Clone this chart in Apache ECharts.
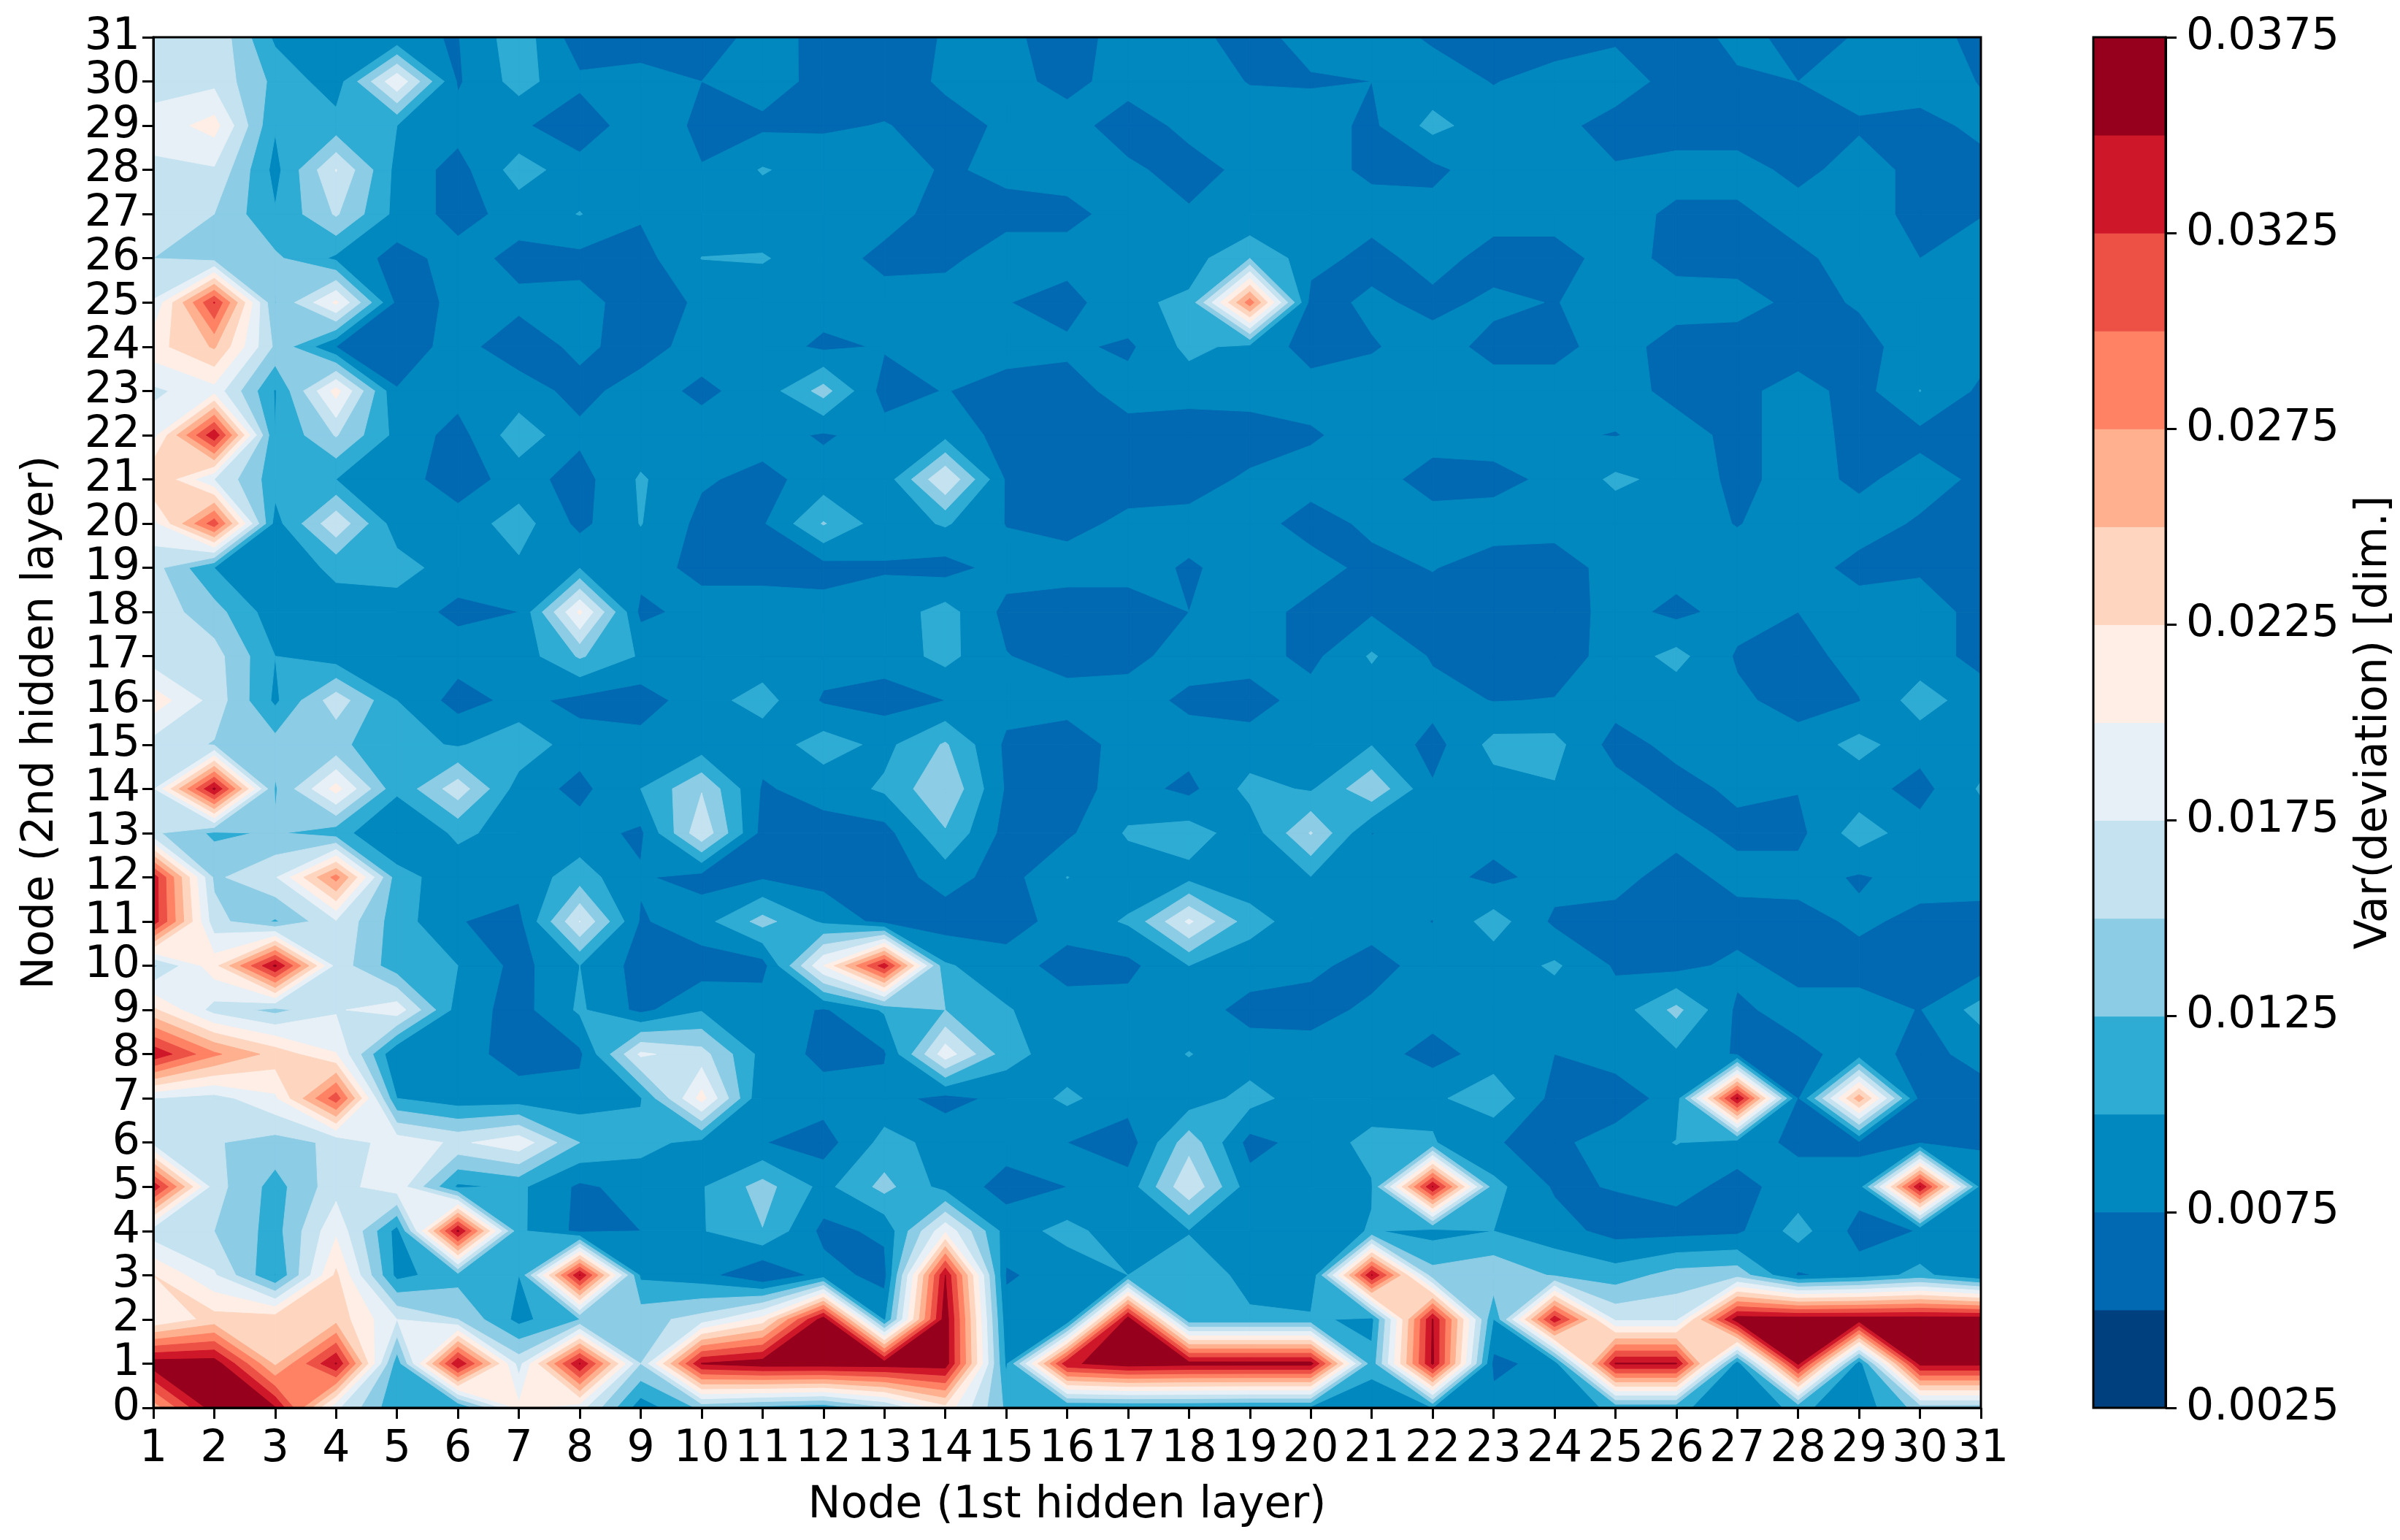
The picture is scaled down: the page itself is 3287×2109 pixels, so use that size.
<!DOCTYPE html>
<html>
<head>
<meta charset="utf-8">
<title>Var(deviation)</title>
<script src="https://cdn.jsdelivr.net/npm/echarts@6/dist/echarts.min.js"></script>
<style>
html, body { margin: 0; padding: 0; background: #fff; }
#ech { width: 3287px; height: 2109px; }
</style>
</head>
<body>
<div id="ech"></div>
<script>
var nodesFirst = [1,2,3,4,5,6,7,8,9,10,11,12,13,14,15,16,17,18,19,20,21,22,23,24,25,26,27,28,29,30,31];
var nodesSecond = [0,1,2,3,4,5,6,7,8,9,10,11,12,13,14,15,16,17,18,19,20,21,22,23,24,25,26,27,28,29,30,31];

// unit 1e-4, one row per 2nd layer node
var row0 = [260,365,352,180,105,98,205,185,85,130,115,105,145,215,120,95,95,95,92,92,85,100,85,85,105,105,85,105,85,135,135];
var row1 = [365,365,245,352,110,350,165,352,150,352,365,365,365,365,95,345,365,360,360,360,108,355,68,85,352,352,85,355,85,358,358];
var row2 = [200,235,240,240,175,150,92,125,140,160,210,365,95,365,85,74.9,365,105,105,105,92,352,99,342,170,170,365,365,365,365,365];
var row3 = [225,178,99,230,92,115,100,352,95,85,49,85,66,350,72,85,100,120,90,74.9,352,135,145,122,112,135,140,72,85,108,74];
var row4 = [160,150,115,195,90,355,105,68,75,98,124,68,80,195,88,108,85,98,85,85,102,90,100,85,66,66,70,110,66,76,85];
var row5 = [345,160,115,165,190,95,105,70,85,98,135,92,133,90,66,75,85,172,85,85,98,352,108,72,76,82,68,85,85,352,88];
var row6 = [165,152,140,155,190,170,192,125,108,92,76,64,108,92,85,75,62,140,66,85,108,102,76,70,85,101,85,70,70,72,72];
var row7 = [175,165,195,315,100,85,85,85,98,210,75,85,85,66,82,105,85,85,110,85,85,94,118,66,62,85,355,72,265,66,66];
var row8 = [345,280,240,201,74.9,85,65,70,180,160,91,68,72,190,110,85,85,101,85,85,85,66,85,75,85,95,72,68,85,68,82];
var row9 = [230,165,142,172,190,88,65,104,68,98,92,72,103,125,102,85,85,85,68,66,80,85,85,85,85,132,70,85,85,74,110];
var row10 = [145,215,355,165,110,100,66,100,65,62,64,200,340,103,85,66,68,100,85,80,66,85,85,104,72,66,82,65,65,65,65];
var row11 = [340,160,122,172,112,76,68,176,72,90,134,95,66,62,64,85,103,180,110,85,85,74.5,112,70,65,62,62,65,80,68,66];
var row12 = [340,145,172,285,110,85,85,112,78,65,72,65,62,85,64,100.5,85,92,85,99,85,85,68,85,85,62,85,85,72,85,85];
var row13 = [155,120,128,110,74.5,105,90,85,70,170,66,64,65,122,66,70,103,112,85,152,74.5,85,85,74.9,85,85,68,68,113,85,85];
var row14 = [172,355,122,210,105,165,88,68,100,148,72,85,104,148,72,65,85,68,108,97,145,78,90,98,85,66,80,76,85,66,103];
var row15 = [165,148,135,130,110,97,118,85,85,85,85,112,93,128,70,62,85,85,85,75,99,65,108,108,65,82,85,85,108,85,85];
var row16 = [215,165,95,165,100,65,82,68,62,90,110,72,65,75,85,85,85,70,65,85,85,85,74,76,85,85,80,65,74,112,85];
var row17 = [160,160,100,85,85,85,85,128,97,85,85,85,85,108,76,65,68,85,85,68,103,72,62,62,85,108,72,65,85,85,68];
var row18 = [165,135,85,90,85,70,75,205,68,85,85,85,85,110,68,62,62,75,85,68,72,65,60,60,85,68,85,75,85,85,68];
var row19 = [160,100,85,105,112,85,95,99,85,68,68,65,73,65,85,85,85,72,85,85,68,76,65,62,85,85,85,85,68,72,65];
var row20 = [190,315,90,170,85,85,112,68,101,68,72,127,85,103,74,68,80,85,85,65,80,85,85,85,85,85,74,85,85,72,65];
var row21 = [252,175,110,100,85,63,85,65,103,78,68,85,85,175,72,65,65,62,80,85,85,65,68,80,105,92,68,85,70,85,70];
var row22 = [190,345,100,152,92,65,115,80,85,85,85,72,85,92,65,62,65,60,60,72,85,85,85,78,74,85,68,85,68,68,68];
var row23 = [170,190,98,210,76,85,85,68,85,70,85,135,65,76,65,65,85,85,88,85,85,85,85,85,85,68,68,85,65,100.5,70];
var row24 = [215,253,145,75,65,82,63,80,65,85,87,70,77,85,85,80,70,107,92,65,73,85,68,68,85,65,62,62,68,85,85];
var row25 = [177,327,124,205,68,78,80,82,65,78,85,85,85,85,76,65,95,105,290,65,80,68,80,74,85,85,85,68,77,85,85];
var row26 = [150,140,130,95,65,85,68,68,65,100.5,102,87,68,70,85,85,85,88,125,85,66,85,65,65,85,68,66,70,85,75,85];
var row27 = [165,150,102,153,92,65,85,101,78,85,85,85,85,65,68,68,85,78,76,85,85,85,85,85,85,70,70,85,85,68,74];
var row28 = [170,172,92,176,92,65,112,85,85,76,102,88,88,72,80,85,80,65,82,85,70,68,91,85,78,85,85,68,85,68,68];
var row29 = [185,210,102,110,100,85,79,60,90,70,70,72,76,68,78,85,62,82,85,85,70,108,85,85,62,62,62,62,72,68,80];
var row30 = [165,168,118,86,197,72,110,80,82,75,85,68,65,78,82,68,85,85,74,73,75,85,74,83,92,62,72,75,85,85,74];
var row31 = [170,171,95,85,78,74,115,60,65,65,82,70,68,76,82,60,89,80,68,82,85,72,65,65,70,65,80,70,76,85,68];
var rows = [row0,row1,row2,row3,row4,row5,row6,row7,row8,row9,row10,row11,row12,row13,row14,row15,
	row16,row17,row18,row19,row20,row21,row22,row23,row24,row25,row26,row27,row28,row29,row30,row31];

// contour levels, same unit
var levels = [25,50,75,100,125,150,175,200,225,250,275,300,325,350,375];
var bandColors = ['#00407f','#0069b2','#0088bf','#2eacd4','#8ccce5','#c4e2f0','#e7f0f6',
	'#ffeee6','#fed6c0','#ffb08f','#ff8265','#ed5146','#cf172a','#96001c'];
var barTickLabels = ['0.0025','0.0075','0.0125','0.0175','0.0225','0.0275','0.0325','0.0375'];

var fontName = 'DejaVu Sans';
var fontPx = 60;

// one item per grid cell: x, y and the four corner values
function cellData() {
	var out = [];
	for (var j = 0; j < nodesSecond.length - 1; j++) {
		for (var i = 0; i < nodesFirst.length - 1; i++) {
			out.push([nodesFirst[i], nodesSecond[j], rows[j][i], rows[j][i + 1], rows[j + 1][i + 1], rows[j + 1][i]]);
		}
	}
	return out;
}

function clipAbove(poly, lv) {
	var out = [];
	for (var i = 0; i < poly.length; i++) {
		var p = poly[i], q = poly[(i + 1) % poly.length];
		if (p[2] >= lv) out.push(p);
		if ((p[2] >= lv) !== (q[2] >= lv)) {
			var t = (lv - p[2]) / (q[2] - p[2]);
			out.push([p[0] + t * (q[0] - p[0]), p[1] + t * (q[1] - p[1]), lv]);
		}
	}
	return out;
}

function renderCell(params, api) {
	var x = api.value(0), y = api.value(1);
	var a = api.value(2), b = api.value(3), c = api.value(4), d = api.value(5);
	var quad = [[x, y, a], [x + 1, y, b], [x + 1, y + 1, c], [x, y + 1, d]];
	var centre = (a + b + c + d) / 4;
	var children = [];

	function addPoly(poly, k) {
		if (poly.length < 3) return;
		var pts = [];
		for (var n = 0; n < poly.length; n++) {
			pts.push(api.coord([poly[n][0], poly[n][1]]));
		}
		// z2 keeps higher bands on top of every cell's lower bands
		children.push({
			type: 'polygon',
			z2: k,
			shape: { points: pts },
			style: { fill: bandColors[k], stroke: bandColors[k], lineWidth: 1 }
		});
	}

	var low = Math.min(a, b, c, d);
	var high = Math.max(a, b, c, d);
	for (var k = 0; k < bandColors.length; k++) {
		var lv = levels[k];
		if (high < lv) break;
		if (low >= levels[k + 1]) continue;
		var saddle = (a - lv) * (c - lv) > 0 && (b - lv) * (d - lv) > 0 && (a - lv) * (b - lv) < 0;
		if (saddle && centre < lv) {
			// the two high corners stay apart: cut along the low diagonal
			if (a >= lv) {
				addPoly(clipAbove([quad[0], quad[1], quad[3]], lv), k);
				addPoly(clipAbove([quad[2], quad[3], quad[1]], lv), k);
			} else {
				addPoly(clipAbove([quad[1], quad[2], quad[0]], lv), k);
				addPoly(clipAbove([quad[3], quad[0], quad[2]], lv), k);
			}
		} else {
			addPoly(clipAbove(quad, lv), k);
		}
	}
	return { type: 'group', children: children };
}

function renderBand(params, api) {
	var i = api.value(0);
	var p0 = api.coord([0, i]);
	var p1 = api.coord([1, i + 1]);
	return {
		type: 'rect',
		shape: { x: p0[0], y: p1[1], width: p1[0] - p0[0], height: p0[1] - p1[1] },
		style: { fill: bandColors[i], stroke: bandColors[i], lineWidth: 1 }
	};
}

function bandData() {
	var out = [];
	for (var i = 0; i < bandColors.length; i++) out.push([i]);
	return out;
}

var nameStyle = { color: '#000', fontFamily: fontName, fontSize: fontPx };
var lineStyle = { color: '#000', width: 3 };

var myChart = echarts.init(document.getElementById('ech'), null, { renderer: 'canvas' });
var option = {
	animation: false,
	backgroundColor: '#fff',
	textStyle: { fontFamily: fontName },
	grid: [
		{ left: 210, top: 51, width: 2503, height: 1877, show: true, z: 10,
			backgroundColor: 'transparent', borderColor: '#000', borderWidth: 3 },
		{ left: 2867, top: 51, width: 99, height: 1877, show: true, z: 10,
			backgroundColor: 'transparent', borderColor: '#000', borderWidth: 3 }
	],
	xAxis: [
		{ type: 'value', gridIndex: 0, min: 1, max: 31, interval: 1, z: 10,
			name: 'Node (1st hidden layer)', nameLocation: 'middle', nameGap: 104, nameTextStyle: nameStyle,
			axisLine: { show: true, onZero: false, lineStyle: lineStyle },
			axisTick: { show: true, length: 15, lineStyle: lineStyle },
			axisLabel: { show: true, margin: 27, showMinLabel: true, showMaxLabel: true, hideOverlap: false, color: '#000', fontFamily: fontName, fontSize: fontPx },
			splitLine: { show: false } },
		{ type: 'value', gridIndex: 1, min: 0, max: 1, show: false, splitLine: { show: false } }
	],
	yAxis: [
		{ type: 'value', gridIndex: 0, min: 0, max: 31, interval: 1, z: 10,
			name: 'Node (2nd hidden layer)', nameLocation: 'middle', nameGap: 124, nameTextStyle: nameStyle,
			axisLine: { show: true, onZero: false, lineStyle: lineStyle },
			axisTick: { show: true, length: 15, lineStyle: lineStyle },
			axisLabel: { show: true, margin: 18, padding: [6, 0, 0, 0], showMinLabel: true, showMaxLabel: true, hideOverlap: false, color: '#000', fontFamily: fontName, fontSize: fontPx },
			splitLine: { show: false } },
		{ type: 'value', gridIndex: 1, min: 0, max: 14, interval: 2, position: 'right', z: 10,
			name: 'Var(deviation) [dim.]', nameLocation: 'middle', nameGap: 256, nameRotate: 90, nameTextStyle: nameStyle,
			axisLine: { show: true, onZero: false, lineStyle: lineStyle },
			axisTick: { show: true, length: 15, lineStyle: lineStyle },
			axisLabel: {
				show: true, margin: 28, padding: [6, 0, 0, 0], showMinLabel: true, showMaxLabel: true, hideOverlap: false,
				color: '#000', fontFamily: fontName, fontSize: fontPx,
				formatter: function(v) { return barTickLabels[v / 2]; }
			},
			splitLine: { show: false } }
	],
	series: [
		{ type: 'custom', xAxisIndex: 0, yAxisIndex: 0, clip: true, silent: true,
			encode: { x: 0, y: 1 }, renderItem: renderCell, data: cellData() },
		{ type: 'custom', xAxisIndex: 1, yAxisIndex: 1, clip: true, silent: true,
			encode: { y: 0 }, renderItem: renderBand, data: bandData() }
	]
};
myChart.setOption(option);
</script>
</body>
</html>
